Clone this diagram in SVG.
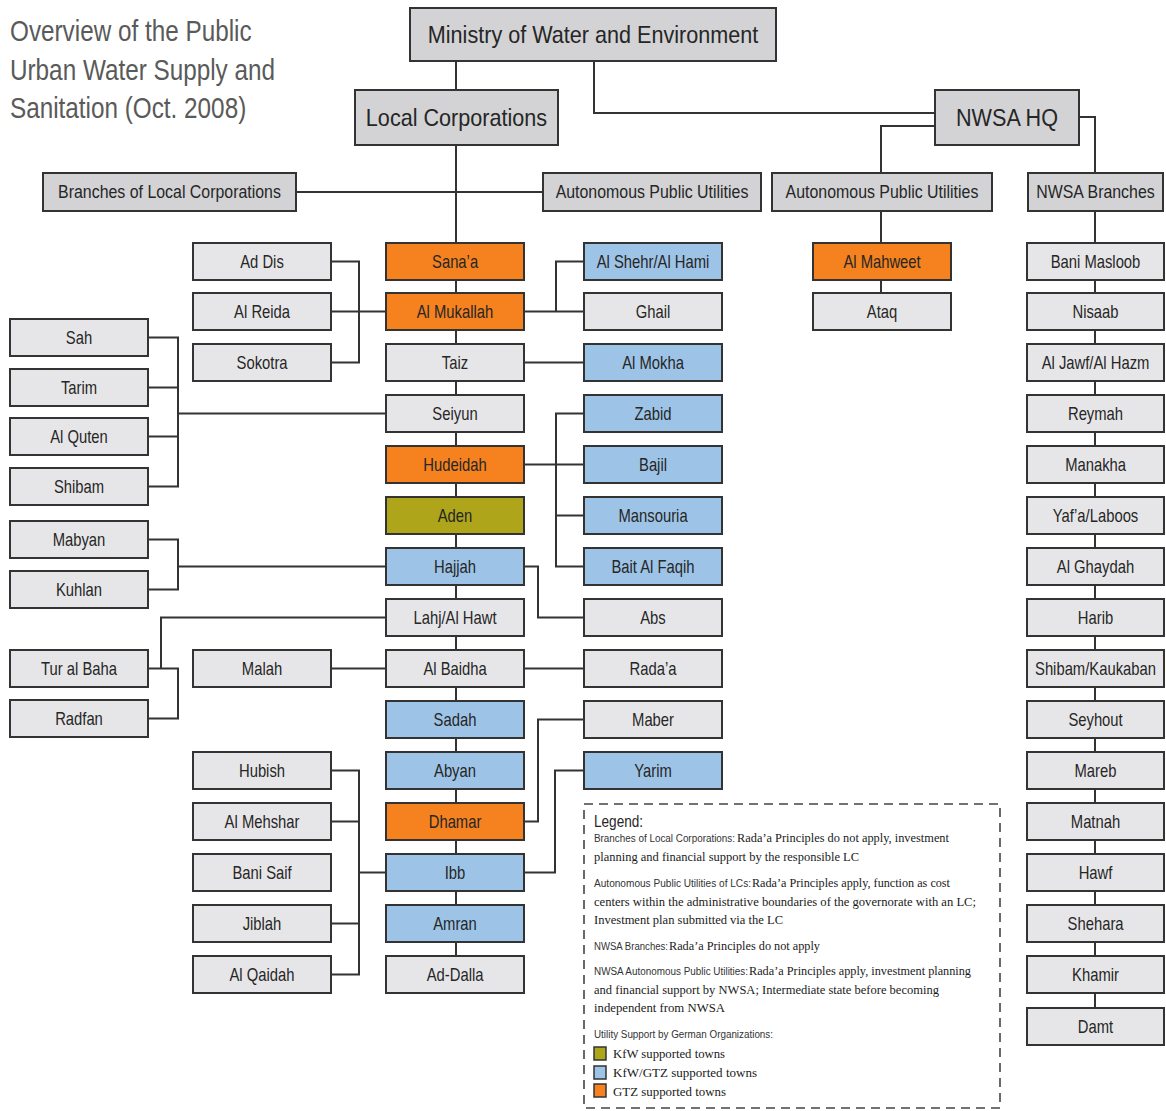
<svg xmlns="http://www.w3.org/2000/svg" width="1166" height="1111" viewBox="0 0 1166 1111">
<style>
.node rect{fill:#e6e6e8;stroke:#333;stroke-width:2}
.hdr rect{fill:#d3d3d5}
.orange rect{fill:#f5821f}
.olive rect{fill:#aea51b}
.blue rect{fill:#9dc4e7}
.node text{font-family:"Liberation Sans",Arial,sans-serif;font-size:18.5px;fill:#262626;text-anchor:middle;transform:scaleX(0.8);transform-box:fill-box;transform-origin:center}
.hdr text{transform:scaleX(0.86)}
.big text{font-size:24px;transform:scaleX(0.9)}
#connectors{stroke:#333;stroke-width:2;fill:none}
.title{font-family:"Liberation Sans",Arial,sans-serif;font-size:30px;fill:#5a5a5a;transform:scaleX(0.81);transform-box:fill-box;transform-origin:left center}
.lgh{font-family:"Liberation Sans",Arial,sans-serif;font-size:16px;fill:#262626;transform:scaleX(0.85);transform-box:fill-box;transform-origin:left center}
.lgp{font-family:"Liberation Sans",Arial,sans-serif;font-size:10px;fill:#333}
.lgs{font-family:"Liberation Serif","Times New Roman",serif;font-size:12.5px;fill:#1a1a1a}
.sw{stroke:#333;stroke-width:1.5}
</style>
<g id="title">
<text class="title" x="10" y="41">Overview of the Public</text>
<text class="title" x="10" y="80">Urban Water Supply and</text>
<text class="title" x="10" y="118">Sanitation (Oct. 2008)</text>
</g>
<g id="connectors">
<path d="M456 61V90M594 61V113H935M456 145V956M296 192H543M935 126H881V293M1079 117H1095V1008"/>
<path d="M331 261.5H359V362.5H331M331 311.5H386M524 311.5H556M584 261.5H556V311.5H584M524 362.5H584"/>
<path d="M386 413.5H178M148 337.5H178V486.5H148M148 387.5H178M148 436.5H178"/>
<path d="M524 464.5H556M584 413.5H556V566.5H584M556 464.5H584M556 515.5H584"/>
<path d="M386 566.5H178M148 539.5H178V589.5H148M524 566.5H538V617.5H584"/>
<path d="M386 617.5H161V668.5M148 668.5H178V718.5H148M331 668.5H386M524 668.5H584"/>
<path d="M584 719.5H538V821.5H524M584 770.5H555V872.5H524"/>
<path d="M386 872.5H359M331 770.5H359V974.5H331M331 821.5H359M331 923.5H359"/>
</g>
<g id="ministry" class="node hdr big"><rect x="410" y="8" width="366" height="53"/><text x="593" y="43">Ministry of Water and Environment</text></g>
<g id="local-corporations" class="node hdr big"><rect x="355" y="90" width="203" height="55"/><text x="456.5" y="126">Local Corporations</text></g>
<g id="nwsa-hq" class="node hdr big"><rect x="935" y="90" width="144" height="55"/><text x="1007" y="126">NWSA HQ</text></g>
<g id="branches-lc" class="node hdr"><rect x="43" y="173" width="253" height="38"/><text x="169.5" y="198.5">Branches of Local Corporations</text></g>
<g id="apu-lc" class="node hdr"><rect x="543" y="173" width="218" height="38"/><text x="652" y="198.5">Autonomous Public Utilities</text></g>
<g id="apu-nwsa" class="node hdr"><rect x="772" y="173" width="220" height="38"/><text x="882" y="198.5">Autonomous Public Utilities</text></g>
<g id="nwsa-branches" class="node hdr"><rect x="1028" y="173" width="135" height="38"/><text x="1095.5" y="198.5">NWSA Branches</text></g>

<g id="sanaa" class="node orange"><rect x="386" y="243" width="138" height="37"/><text x="455" y="268">Sana’a</text></g>
<g id="al-mukallah" class="node orange"><rect x="386" y="293" width="138" height="37"/><text x="455" y="318">Al Mukallah</text></g>
<g id="taiz" class="node"><rect x="386" y="344" width="138" height="37"/><text x="455" y="369">Taiz</text></g>
<g id="seiyun" class="node"><rect x="386" y="395" width="138" height="37"/><text x="455" y="420">Seiyun</text></g>
<g id="hudeidah" class="node orange"><rect x="386" y="446" width="138" height="37"/><text x="455" y="471">Hudeidah</text></g>
<g id="aden" class="node olive"><rect x="386" y="497" width="138" height="37"/><text x="455" y="522">Aden</text></g>
<g id="hajjah" class="node blue"><rect x="386" y="548" width="138" height="37"/><text x="455" y="573">Hajjah</text></g>
<g id="lahj" class="node"><rect x="386" y="599" width="138" height="37"/><text x="455" y="624">Lahj/Al Hawt</text></g>
<g id="al-baidha" class="node"><rect x="386" y="650" width="138" height="37"/><text x="455" y="675">Al Baidha</text></g>
<g id="sadah" class="node blue"><rect x="386" y="701" width="138" height="37"/><text x="455" y="726">Sadah</text></g>
<g id="abyan" class="node blue"><rect x="386" y="752" width="138" height="37"/><text x="455" y="777">Abyan</text></g>
<g id="dhamar" class="node orange"><rect x="386" y="803" width="138" height="37"/><text x="455" y="828">Dhamar</text></g>
<g id="ibb" class="node blue"><rect x="386" y="854" width="138" height="37"/><text x="455" y="879">Ibb</text></g>
<g id="amran" class="node blue"><rect x="386" y="905" width="138" height="37"/><text x="455" y="930">Amran</text></g>
<g id="ad-dalla" class="node"><rect x="386" y="956" width="138" height="37"/><text x="455" y="981">Ad-Dalla</text></g>

<g id="al-shehr" class="node blue"><rect x="584" y="243" width="138" height="37"/><text x="653" y="268">Al Shehr/Al Hami</text></g>
<g id="ghail" class="node"><rect x="584" y="293" width="138" height="37"/><text x="653" y="318">Ghail</text></g>
<g id="al-mokha" class="node blue"><rect x="584" y="344" width="138" height="37"/><text x="653" y="369">Al Mokha</text></g>
<g id="zabid" class="node blue"><rect x="584" y="395" width="138" height="37"/><text x="653" y="420">Zabid</text></g>
<g id="bajil" class="node blue"><rect x="584" y="446" width="138" height="37"/><text x="653" y="471">Bajil</text></g>
<g id="mansouria" class="node blue"><rect x="584" y="497" width="138" height="37"/><text x="653" y="522">Mansouria</text></g>
<g id="bait-al-faqih" class="node blue"><rect x="584" y="548" width="138" height="37"/><text x="653" y="573">Bait Al Faqih</text></g>
<g id="abs" class="node"><rect x="584" y="599" width="138" height="37"/><text x="653" y="624">Abs</text></g>
<g id="radaa" class="node"><rect x="584" y="650" width="138" height="37"/><text x="653" y="675">Rada’a</text></g>
<g id="maber" class="node"><rect x="584" y="701" width="138" height="37"/><text x="653" y="726">Maber</text></g>
<g id="yarim" class="node blue"><rect x="584" y="752" width="138" height="37"/><text x="653" y="777">Yarim</text></g>

<g id="ad-dis" class="node"><rect x="193" y="243" width="138" height="37"/><text x="262" y="268">Ad Dis</text></g>
<g id="al-reida" class="node"><rect x="193" y="293" width="138" height="37"/><text x="262" y="318">Al Reida</text></g>
<g id="sokotra" class="node"><rect x="193" y="344" width="138" height="37"/><text x="262" y="369">Sokotra</text></g>
<g id="malah" class="node"><rect x="193" y="650" width="138" height="37"/><text x="262" y="675">Malah</text></g>
<g id="hubish" class="node"><rect x="193" y="752" width="138" height="37"/><text x="262" y="777">Hubish</text></g>
<g id="al-mehshar" class="node"><rect x="193" y="803" width="138" height="37"/><text x="262" y="828">Al Mehshar</text></g>
<g id="bani-saif" class="node"><rect x="193" y="854" width="138" height="37"/><text x="262" y="879">Bani Saif</text></g>
<g id="jiblah" class="node"><rect x="193" y="905" width="138" height="37"/><text x="262" y="930">Jiblah</text></g>
<g id="al-qaidah" class="node"><rect x="193" y="956" width="138" height="37"/><text x="262" y="981">Al Qaidah</text></g>

<g id="sah" class="node"><rect x="10" y="319" width="138" height="37"/><text x="79" y="344">Sah</text></g>
<g id="tarim" class="node"><rect x="10" y="369" width="138" height="37"/><text x="79" y="394">Tarim</text></g>
<g id="al-quten" class="node"><rect x="10" y="418" width="138" height="37"/><text x="79" y="443">Al Quten</text></g>
<g id="shibam" class="node"><rect x="10" y="468" width="138" height="37"/><text x="79" y="493">Shibam</text></g>
<g id="mabyan" class="node"><rect x="10" y="521" width="138" height="37"/><text x="79" y="546">Mabyan</text></g>
<g id="kuhlan" class="node"><rect x="10" y="571" width="138" height="37"/><text x="79" y="596">Kuhlan</text></g>
<g id="tur-al-baha" class="node"><rect x="10" y="650" width="138" height="37"/><text x="79" y="675">Tur al Baha</text></g>
<g id="radfan" class="node"><rect x="10" y="700" width="138" height="37"/><text x="79" y="725">Radfan</text></g>

<g id="al-mahweet" class="node orange"><rect x="813" y="243" width="138" height="37"/><text x="882" y="268">Al Mahweet</text></g>
<g id="ataq" class="node"><rect x="813" y="293" width="138" height="37"/><text x="882" y="318">Ataq</text></g>

<g id="bani-masloob" class="node"><rect x="1027" y="243" width="137" height="37"/><text x="1095.5" y="268">Bani Masloob</text></g>
<g id="nisaab" class="node"><rect x="1027" y="293" width="137" height="37"/><text x="1095.5" y="318">Nisaab</text></g>
<g id="al-jawf" class="node"><rect x="1027" y="344" width="137" height="37"/><text x="1095.5" y="369">Al Jawf/Al Hazm</text></g>
<g id="reymah" class="node"><rect x="1027" y="395" width="137" height="37"/><text x="1095.5" y="420">Reymah</text></g>
<g id="manakha" class="node"><rect x="1027" y="446" width="137" height="37"/><text x="1095.5" y="471">Manakha</text></g>
<g id="yafa" class="node"><rect x="1027" y="497" width="137" height="37"/><text x="1095.5" y="522">Yaf’a/Laboos</text></g>
<g id="al-ghaydah" class="node"><rect x="1027" y="548" width="137" height="37"/><text x="1095.5" y="573">Al Ghaydah</text></g>
<g id="harib" class="node"><rect x="1027" y="599" width="137" height="37"/><text x="1095.5" y="624">Harib</text></g>
<g id="shibam-kaukaban" class="node"><rect x="1027" y="650" width="137" height="37"/><text x="1095.5" y="675">Shibam/Kaukaban</text></g>
<g id="seyhout" class="node"><rect x="1027" y="701" width="137" height="37"/><text x="1095.5" y="726">Seyhout</text></g>
<g id="mareb" class="node"><rect x="1027" y="752" width="137" height="37"/><text x="1095.5" y="777">Mareb</text></g>
<g id="matnah" class="node"><rect x="1027" y="803" width="137" height="37"/><text x="1095.5" y="828">Matnah</text></g>
<g id="hawf" class="node"><rect x="1027" y="854" width="137" height="37"/><text x="1095.5" y="879">Hawf</text></g>
<g id="shehara" class="node"><rect x="1027" y="905" width="137" height="37"/><text x="1095.5" y="930">Shehara</text></g>
<g id="khamir" class="node"><rect x="1027" y="956" width="137" height="37"/><text x="1095.5" y="981">Khamir</text></g>
<g id="damt" class="node"><rect x="1027" y="1008" width="137" height="37"/><text x="1095.5" y="1033">Damt</text></g>

<g id="legend">
<rect x="584" y="804" width="416" height="304" fill="none" stroke="#444" stroke-width="1.6" stroke-dasharray="9 6"/>
<text class="lgh" x="594" y="827">Legend:</text>
<text class="lgp" x="594" y="842" textLength="141" lengthAdjust="spacingAndGlyphs">Branches of Local Corporations:</text>
<text class="lgs" x="737" y="842" textLength="212" lengthAdjust="spacingAndGlyphs">Rada’a Principles do not apply, investment</text>
<text class="lgs" x="594" y="861" textLength="265" lengthAdjust="spacingAndGlyphs">planning and financial support by the responsible LC</text>
<text class="lgp" x="594" y="887" textLength="157" lengthAdjust="spacingAndGlyphs">Autonomous Public Utilities of LCs:</text>
<text class="lgs" x="752" y="887" textLength="198" lengthAdjust="spacingAndGlyphs">Rada’a Principles apply, function as cost</text>
<text class="lgs" x="594" y="906" textLength="382" lengthAdjust="spacingAndGlyphs">centers within the administrative boundaries of the governorate with an LC;</text>
<text class="lgs" x="594" y="924" textLength="189" lengthAdjust="spacingAndGlyphs">Investment plan submitted via the LC</text>
<text class="lgp" x="594" y="950" textLength="74" lengthAdjust="spacingAndGlyphs">NWSA Branches:</text>
<text class="lgs" x="669" y="950" textLength="151" lengthAdjust="spacingAndGlyphs">Rada’a Principles do not apply</text>
<text class="lgp" x="594" y="975" textLength="154" lengthAdjust="spacingAndGlyphs">NWSA Autonomous Public Utilities:</text>
<text class="lgs" x="749" y="975" textLength="222" lengthAdjust="spacingAndGlyphs">Rada’a Principles apply, investment planning</text>
<text class="lgs" x="594" y="994" textLength="345" lengthAdjust="spacingAndGlyphs">and financial support by NWSA; Intermediate state before becoming</text>
<text class="lgs" x="594" y="1012" textLength="131" lengthAdjust="spacingAndGlyphs">independent from NWSA</text>
<text class="lgp" x="594" y="1038" textLength="179" lengthAdjust="spacingAndGlyphs">Utility Support by German Organizations:</text>
<rect class="sw" x="594" y="1047" width="12" height="13" fill="#aea51b"/>
<rect class="sw" x="594" y="1066" width="12" height="13" fill="#9dc4e7"/>
<rect class="sw" x="594" y="1084" width="12" height="13" fill="#f5821f"/>
<text class="lgs" x="613" y="1058" textLength="112" lengthAdjust="spacingAndGlyphs">KfW supported towns</text>
<text class="lgs" x="613" y="1077" textLength="144" lengthAdjust="spacingAndGlyphs">KfW/GTZ supported towns</text>
<text class="lgs" x="613" y="1096" textLength="113" lengthAdjust="spacingAndGlyphs">GTZ supported towns</text>
</g>
</svg>
